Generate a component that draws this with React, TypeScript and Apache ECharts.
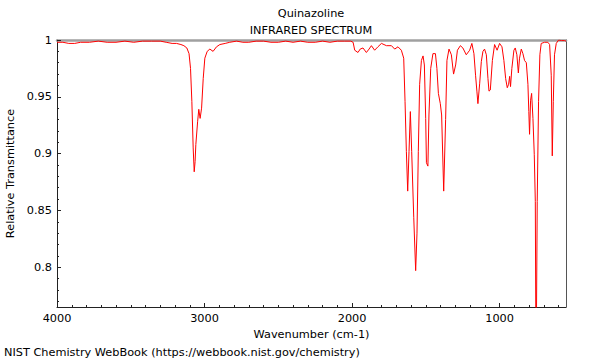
import { useEffect, useRef } from "react";
import * as echarts from "echarts";

const chartTitle = "Quinazoline";
const chartSubtitle = "INFRARED SPECTRUM";
const xAxisName = "Wavenumber (cm-1)";
const yAxisName = "Relative Transmittance";
const footer = "NIST Chemistry WebBook (https://webbook.nist.gov/chemistry)";

const wavenumbers = [
  4000, 3960, 3920, 3880, 3840, 3780, 3720, 3660, 3600, 3540, 3480, 3420, 3360, 3300, 3260, 3220, 3190, 3160, 3140,
  3120, 3105, 3095, 3086, 3077, 3070, 3064, 3059, 3047, 3039, 3030, 3020, 3009, 2998, 2982, 2964, 2942, 2919, 2896,
  2860, 2829, 2783, 2740, 2700, 2650, 2600, 2550, 2500, 2450, 2400, 2350, 2300, 2250, 2200, 2150, 2100, 2050, 2010,
  1993, 1982, 1960, 1945, 1926, 1903, 1885, 1869, 1847, 1825, 1801, 1767, 1733, 1711, 1689, 1666, 1650, 1641, 1632,
  1623, 1614, 1605, 1596, 1582, 1569, 1560, 1551, 1542, 1530, 1519, 1510, 1501, 1496, 1486, 1479, 1467, 1452, 1435,
  1425, 1415, 1402, 1393, 1379, 1366, 1357, 1343, 1327, 1312, 1298, 1286, 1266, 1249, 1226, 1203, 1188, 1174, 1163,
  1154, 1147, 1135, 1124, 1113, 1102, 1090, 1079, 1072, 1063, 1049, 1034, 1017, 1000, 984, 971, 959, 948, 939, 932,
  926, 917, 903, 894, 883, 873, 865, 853, 842, 831, 819, 808, 802, 797, 790, 783, 774, 765, 758, 753, 745, 736, 727,
  718, 695, 673, 661, 650, 643, 636, 628, 616, 600, 580, 560, 550,
];

const transmittance = [
  0.998, 0.998, 0.997, 0.997, 0.998, 0.998, 0.999, 0.998, 0.998, 0.999, 0.998, 0.999, 0.999, 0.999, 0.998, 0.997,
  0.997, 0.996, 0.995, 0.993, 0.988, 0.975, 0.946, 0.905, 0.884, 0.893, 0.908, 0.928, 0.939, 0.931, 0.94, 0.966,
  0.984, 0.99, 0.992, 0.99, 0.994, 0.996, 0.997, 0.998, 0.999, 0.998, 0.998, 0.999, 0.999, 0.998, 0.998, 0.999,
  0.998, 0.999, 0.998, 0.998, 0.999, 0.998, 0.999, 0.999, 0.999, 0.998, 0.991, 0.989, 0.992, 0.993, 0.989, 0.992,
  0.995, 0.991, 0.994, 0.997, 0.995, 0.995, 0.992, 0.994, 0.991, 0.984, 0.946, 0.902, 0.867, 0.902, 0.937, 0.902,
  0.844, 0.797, 0.83, 0.902, 0.961, 0.982, 0.986, 0.978, 0.931, 0.892, 0.889, 0.934, 0.975, 0.988, 0.988, 0.975,
  0.953, 0.944, 0.934, 0.867, 0.93, 0.982, 0.992, 0.987, 0.97, 0.978, 0.991, 0.995, 0.993, 0.987, 0.991, 0.997,
  0.988, 0.969, 0.955, 0.944, 0.962, 0.981, 0.99, 0.992, 0.987, 0.966, 0.955, 0.956, 0.982, 0.996, 0.991, 0.997,
  0.994, 0.982, 0.966, 0.958, 0.961, 0.968, 0.959, 0.975, 0.991, 0.993, 0.987, 0.971, 0.984, 0.992, 0.988, 0.982,
  0.98, 0.961, 0.937, 0.917, 0.947, 0.953, 0.931, 0.899, 0.858, 0.7, 0.858, 0.946, 0.987, 0.997, 0.998, 0.998,
  0.996, 0.969, 0.898, 0.946, 0.987, 0.997, 1.0, 0.9995, 0.9995, 0.999,
];

const xMin = 550;
const xMax = 4000;
const yMin = 0.765;
const yMax = 1;
const xMajorTicks = [4000, 3000, 2000, 1000];
const xMinorTicks = [
  3900, 3800, 3700, 3600, 3500, 3400, 3300, 3200, 3100, 2900, 2800, 2700, 2600, 2500, 2400, 2300, 2200, 2100, 1900,
  1800, 1700, 1600, 1500, 1400, 1300, 1200, 1100, 900, 800, 700, 600,
];
const yMajorTicks = [0.8, 0.85, 0.9, 0.95, 1];
const yMinorTicks = [
  0.77, 0.78, 0.79, 0.81, 0.82, 0.83, 0.84, 0.86, 0.87, 0.88, 0.89, 0.91, 0.92, 0.93, 0.94, 0.96, 0.97, 0.98, 0.99,
];

const FONT = "DejaVu Sans";
const FS = 11.3;

export default function App() {
  const ref = useRef<HTMLDivElement>(null);
  useEffect(() => {
    if (!ref.current) return;
    const chart = echarts.init(ref.current, null, { renderer: "svg" });
    const data = wavenumbers.map((w, i) => [w, transmittance[i]]);
    const textStyle = { fontFamily: FONT, fontSize: FS, color: "#000" };
    const hidden = { show: false };
    chart.setOption({
      animation: false,
      grid: { left: 57, right: 34, top: 40, bottom: 53, containLabel: false, outerBoundsMode: "none" },
      graphic: [
        { type: "text", x: 311, y: 13, style: { text: chartTitle, font: `${FS}px "${FONT}"`, fill: "#000", align: "center", verticalAlign: "middle" } },
        { type: "text", x: 311, y: 30, style: { text: chartSubtitle, font: `${FS}px "${FONT}"`, fill: "#000", align: "center", verticalAlign: "middle" } },
        { type: "text", x: 4, y: 352, style: { text: footer, font: `${FS}px "${FONT}"`, fill: "#000", align: "left", verticalAlign: "middle" } },
      ],
      xAxis: [
        {
          type: "value", min: xMin, max: xMax, inverse: true, position: "bottom",
          name: xAxisName, nameLocation: "middle", nameGap: 19,
          nameTextStyle: textStyle,
          axisLine: { show: true, onZero: false, lineStyle: { color: "#222", width: 1 } },
          axisTick: { show: true, inside: true, length: 4, customValues: xMajorTicks, lineStyle: { color: "#222" } },
          axisLabel: { show: true, customValues: xMajorTicks, ...textStyle, margin: 6, formatter: (v: number) => String(v) },
          splitLine: hidden,
        },
        {
          type: "value", min: xMin, max: xMax, inverse: true, position: "bottom",
          axisLine: { show: false, onZero: false },
          axisTick: { show: true, inside: true, length: 2, customValues: xMinorTicks, lineStyle: { color: "#222" } },
          axisLabel: hidden, splitLine: hidden,
        },
        {
          type: "value", min: xMin, max: xMax, inverse: true, position: "top",
          axisLine: { show: true, onZero: false, lineStyle: { color: "#a0a0a0", width: 2.5 } },
          axisTick: hidden, axisLabel: hidden, splitLine: hidden,
        },
      ],
      yAxis: [
        {
          type: "value", min: yMin, max: yMax, position: "left",
          name: yAxisName, nameLocation: "middle", nameGap: 37,
          nameTextStyle: textStyle,
          axisLine: { show: true, onZero: false, lineStyle: { color: "#222", width: 1 } },
          axisTick: { show: true, inside: true, length: 4, customValues: yMajorTicks, lineStyle: { color: "#222" } },
          axisLabel: {
            show: true, customValues: yMajorTicks, ...textStyle, margin: 5,
            formatter: (v: number) => String(Number(v.toFixed(2))),
          },
          splitLine: hidden,
        },
        {
          type: "value", min: yMin, max: yMax, position: "left",
          axisLine: { show: false, onZero: false },
          axisTick: { show: true, inside: true, length: 2, customValues: yMinorTicks, lineStyle: { color: "#222" } },
          axisLabel: hidden, splitLine: hidden,
        },
        {
          type: "value", min: yMin, max: yMax, position: "right",
          axisLine: { show: true, onZero: false, lineStyle: { color: "#555", width: 1 } },
          axisTick: hidden, axisLabel: hidden, splitLine: hidden,
        },
      ],
      series: [
        {
          type: "line", xAxisIndex: 0, yAxisIndex: 0, data, showSymbol: false, symbol: "none",
          lineStyle: { color: "#ff0000", width: 1 }, clip: true, smooth: false,
        },
      ],
    });
    return () => chart.dispose();
  }, []);
  return <div ref={ref} style={{ width: 600, height: 360, position: "absolute", left: 0, top: 0 }} />;
}
